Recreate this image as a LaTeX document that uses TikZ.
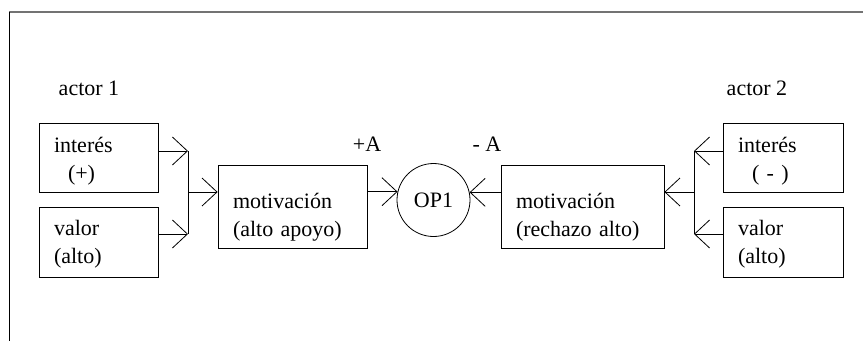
\documentclass[tikz,border=0pt]{standalone}
\usepackage{fontspec}
\setmainfont{Liberation Serif}
\usetikzlibrary{arrows.meta}

\begin{document}
\begin{tikzpicture}[x=1pt,y=-1pt,line width=0.8pt,
    every node/.style={font=\fontsize{22}{28}\selectfont},
    caja/.style={draw,rectangle,align=left,inner xsep=15pt,inner ysep=0pt,text height=20pt},
    link/.style={-{Straight Barb[length=15pt,width=28pt]}}]
		%%%%% START %%%%%
		\useasboundingbox (0,0) rectangle (863,341);
		
		\draw[black!55,line width=1.5pt] (9,12) -- (863,12);
		\draw (9,12) -- (9,341);
		
		\node[anchor=base west] (act1) at (55,95) {actor 1};
		\node[anchor=base west] (act2) at (723,95) {actor 2};
		
		\node[caja,text width=89pt,minimum height=69pt,text depth=31pt] (int1) at (98.5,157.5) {interés\\\hspace*{14pt}(+)};
		\node[caja,text width=89pt,minimum height=70pt,text depth=34pt] (val1) at (98.5,242) {valor\\(alto)};
		\node[caja,text width=119pt,minimum height=83pt,text depth=17pt] (mot1) at (292.5,206.5) {motivación\\(alto apoyo)};
		
		\node[draw,circle,minimum size=73pt,inner sep=0pt] (op) at (433.5,200) {OP1};
		\node[anchor=base] (pos) at (367,151) {+A};
		\node[anchor=base] (neg) at (487,151) {- A};
		
		\node[caja,text width=133pt,minimum height=83pt,text depth=17pt] (mot2) at (582.5,206.5) {motivación\\(rechazo alto)};
		\node[caja,text width=90pt,minimum height=69pt,text depth=31pt] (int2) at (783,157.5) {interés\\\hspace*{14pt}( - )};
		\node[caja,text width=90pt,minimum height=70pt,text depth=34pt] (val2) at (783,242) {valor\\(alto)};
		
		\coordinate (ja) at (188,151);
		\coordinate (jb) at (188,234);
		\coordinate (j1) at (188,192);
		\coordinate (jc) at (694,151);
		\coordinate (jd) at (694,234);
		\coordinate (j2) at (694,192);
		
		\draw[link] (int1.east |- ja) -- (ja);
		\draw[link] (val1.east |- jb) -- (jb);
		\draw (ja) -- (jb);
		\draw[link] (j1) -- (mot1.west |- j1);
		\draw[link] (mot1.east |- op.167.7) -- (op.167.7);
		
		\draw[link] (mot2.west |- op.12.3) -- (op.12.3);
		\draw[link] (j2) -- (mot2.east |- j2);
		\draw[link] (int2.west |- jc) -- (jc);
		\draw[link] (val2.west |- jd) -- (jd);
		\draw (jc) -- (jd);
		
		%%%%% END %%%%%
\end{tikzpicture}
\end{document}
